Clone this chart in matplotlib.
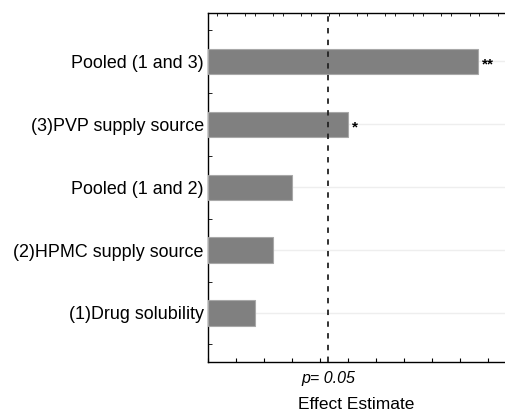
import numpy as np
import matplotlib.pyplot as plt
from matplotlib.ticker import MultipleLocator

plt.rcParams['font.family'] = ['Liberation Sans', 'DejaVu Sans']

# factors, bottom to top
factors = ['(1)Drug solubility', '(2)HPMC supply source', 'Pooled (1 and 2)',
           '(3)PVP supply source', 'Pooled (1 and 3)']
effects = [1.68, 2.32, 3.0, 5.0, 9.64]
stars = ['', '', '', '*', '**']
p_line = 4.29

fig = plt.figure(figsize=(5.05, 4.2), dpi=100)
ax = fig.add_axes([208 / 505, 58 / 420, 297 / 505, 349 / 420])

y = np.arange(len(factors))
ax.barh(y, effects, height=0.4, color='#808080', edgecolor='#a8a8a8', linewidth=0.8, zorder=3)
for yi, v, s in zip(y, effects, stars):
    if s:
        ax.text(v + 0.15, yi - 0.05, s, ha='left', va='center', fontsize=11,
                fontweight='bold', zorder=4)

ax.axvline(p_line, color='#222222', linestyle=(0, (3, 3.5)), linewidth=1.3, zorder=4)

ax.set_xlim(0, 10.6)
ax.set_ylim(-0.78, 4.77)
ax.set_yticks(y)
ax.set_yticklabels(factors, fontsize=12.9)
ax.yaxis.set_minor_locator(MultipleLocator(0.5))
ax.xaxis.set_major_locator(MultipleLocator(1))
ax.xaxis.set_minor_locator(MultipleLocator(0.33333))
ax.set_xticklabels([])
ax.grid(axis='y', color='#eeeeee', linewidth=1, zorder=0)

ax.tick_params(axis='x', which='major', direction='in', length=3, top=False, bottom=True)
ax.tick_params(axis='x', which='minor', direction='in', length=2, top=True, bottom=False)
ax.tick_params(axis='y', which='both', direction='in', length=3, pad=3)
ax.spines['right'].set_visible(False)
for sp in ['left', 'bottom', 'top']:
    ax.spines[sp].set_linewidth(1.0)

ax.text(p_line, -0.93, 'p= 0.05', ha='center', va='top', fontsize=11.5, style='italic')
ax.set_xlabel('Effect Estimate', fontsize=12.5, labelpad=22)

fig.savefig('out.png', dpi=100)
